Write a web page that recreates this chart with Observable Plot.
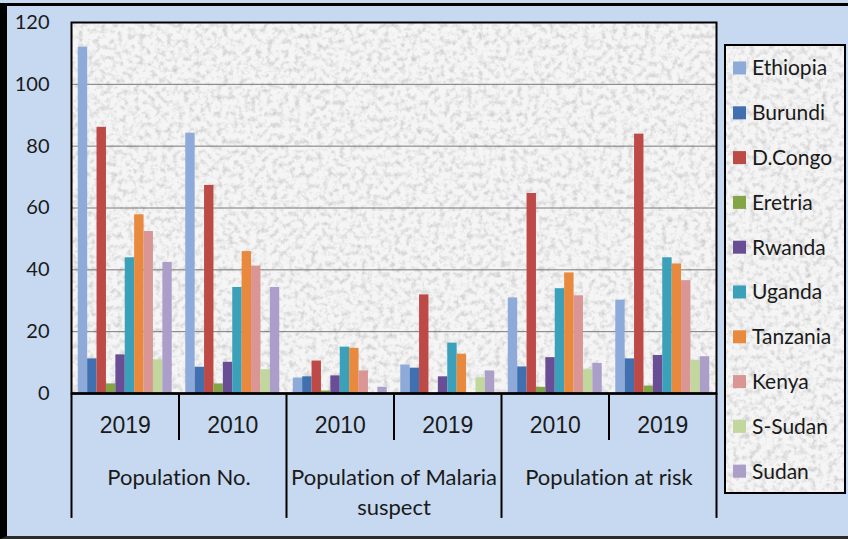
<!DOCTYPE html>
<html><head><meta charset="utf-8">
<script src="https://cdn.jsdelivr.net/npm/d3@7"></script>
<script src="https://cdn.jsdelivr.net/npm/@observablehq/plot@0.6"></script>
<style>
html,body{margin:0;padding:0;background:#c6d9f0;}
#wrap{position:relative;width:848px;height:539px;overflow:hidden;background:#c6d9f0;}
#wrap svg{position:absolute;left:0;top:0;}
#wrap svg text{font-variant-ligatures:none;font-feature-settings:"liga" 0;}
#border{position:absolute;left:0;top:3px;width:870px;height:536px;border-left:7px solid #000;border-top:3px solid #000;border-bottom:3px solid #2b2b2b;box-sizing:border-box;pointer-events:none;}
</style></head>
<body><div id="wrap"><div id="border"></div></div>
<script>
// ---- data ----
const countries = ["Ethiopia","Burundi","D.Congo","Eretria","Rwanda","Uganda","Tanzania","Kenya","S-Sudan","Sudan"];
const colors = ["#8eaad9","#4170b1","#bd4a47","#83a545","#6a4e95","#3ba1ba","#e9893d","#d99695","#c2d79d","#ab9fc9"];
const categories = ["Population No.","Population of Malaria\nsuspect","Population at risk"];
const years = ["2019","2010","2010","2019","2010","2019"];
const yTicks = [0,20,40,60,80,100,120];
// values per country across the 6 groups (Pop No. 2019, 2010 | Malaria 2010, 2019 | Risk 2010, 2019)
const ethiopia = [112, 84.2, 5.0, 9.2, 30.9, 30.2];
const burundi  = [11.2, 8.5, 5.4, 8.2, 8.6, 11.2];
const dcongo   = [86.1, 67.3, 10.5, 31.9, 64.7, 83.9];
const eretria  = [3.1, 3.1, 0.8, 0, 2.0, 2.4];
const rwanda   = [12.5, 10.1, 5.7, 5.4, 11.6, 12.3];
const uganda   = [43.9, 34.3, 15.0, 16.3, 33.9, 43.9];
const tanzania = [57.8, 45.9, 14.6, 12.7, 39.0, 41.9];
const kenya    = [52.4, 41.2, 7.3, 0, 31.6, 36.5];
const ssudan   = [10.9, 7.7, 0, 5.1, 7.7, 10.7];
const sudan    = [42.4, 34.3, 2.0, 7.3, 9.7, 11.9];
const series = [ethiopia, burundi, dcongo, eretria, rwanda, uganda, tanzania, kenya, ssudan, sudan];

// ---- build table ----
const pad = 0.72;
const span = countries.length + 2 * pad;
const rows = [];
years.forEach((yr, g) => {
  countries.forEach((c, ci) => {
    rows.push({g, country: c, value: series[ci][g], x1: g * span + pad + ci, x2: g * span + pad + ci + 1});
  });
});
const groupIdx = years.map((_, g) => g);
const dividers = d3.range(years.length + 1).map(g => ({g, long: g % 2 === 0}));
const catIdx = categories.map((_, i) => i);

const plot = Plot.plot({
  width: 848, height: 539,
  marginLeft: 71, marginRight: 132, marginTop: 22, marginBottom: 146,
  style: {fontFamily: "Lato, sans-serif", fontSize: "20px", color: "#1a1a1a", background: "transparent", overflow: "visible"},
  x: {domain: [0, years.length * span], axis: null},
  y: {domain: [0, 120], axis: null},
  color: {domain: countries, range: colors},
  marks: [
    Plot.frame({fill: "#f5f5f5"}),
    Plot.gridY(yTicks.slice(1, -1), {stroke: "#7a7a7a", strokeOpacity: 1, strokeWidth: 1}),
    Plot.rectY(rows, {x1: "x1", x2: "x2", y: "value", fill: "country"}),
    Plot.frame({stroke: "#000", strokeWidth: 2}),
    Plot.ruleY([0], {stroke: "#000", strokeWidth: 2.5}),
    Plot.axisY(yTicks, {tickSize: 0, tickPadding: 22, fontSize: 20, fill: "#1a1a1a", label: null}),
    Plot.ruleX(dividers, {x: d => d.g * span, y1: 0, y2: d => d.long ? -40.4 : -15.2, stroke: "#000", strokeWidth: 2}),
    Plot.text(groupIdx, {x: g => g * span + span / 2, y: -10.3, text: g => years[g],
      fontFamily: "Liberation Sans, Arial, sans-serif", fontSize: 23, fill: "#1a1a1a"}),
    Plot.text(catIdx, {x: i => (2 * i + 1) * span, y: -22.7, text: i => categories[i], lineAnchor: "top",
      lineHeight: 1.36, fontFamily: "Lato, sans-serif", fontSize: 22, fill: "#1a1a1a"})
  ]
});
document.getElementById("wrap").insertBefore(plot, document.getElementById("border"));

// ---- texture + legend ----
const svg = d3.select(plot);
const defs = svg.insert("defs", ":first-child");
const f = defs.append("filter").attr("id", "granite").attr("x", "0%").attr("y", "0%").attr("width", "100%").attr("height", "100%")
  .attr("color-interpolation-filters", "sRGB");
f.append("feTurbulence").attr("type", "fractalNoise").attr("baseFrequency", 0.18).attr("numOctaves", 4).attr("seed", 5).attr("result", "n");
f.append("feColorMatrix").attr("in", "n").attr("type", "matrix")
  .attr("values", "0 0 0 0 0.78  0 0 0 0 0.78  0 0 0 0 0.78  2.0 0 0 0 -0.9").attr("result", "spots");
f.append("feComposite").attr("in", "spots").attr("in2", "SourceGraphic").attr("operator", "in").attr("result", "s2");
const m = f.append("feMerge");
m.append("feMergeNode").attr("in", "SourceGraphic");
m.append("feMergeNode").attr("in", "s2");
const frames = plot.querySelectorAll('[aria-label="frame"]');
if (frames.length) {
  const el = frames[0].tagName.toLowerCase() === "rect" ? frames[0] : frames[0].querySelector("rect");
  if (el) el.setAttribute("filter", "url(#granite)");
}

const lg = svg.append("g").attr("class", "legend").attr("text-anchor", "start");
lg.append("rect").attr("x", 725).attr("y", 45).attr("width", 120).attr("height", 448)
  .attr("fill", "#f5f5f5").attr("filter", "url(#granite)");
lg.append("rect").attr("x", 725).attr("y", 45).attr("width", 120).attr("height", 448)
  .attr("fill", "none").attr("stroke", "#000").attr("stroke-width", 2);
const items = lg.selectAll("g.item").data(countries).join("g").attr("class", "item")
  .attr("transform", (d, i) => `translate(0,${68 + i * 44.8})`);
items.append("rect").attr("x", 733).attr("y", -6.5).attr("width", 13).attr("height", 13).attr("fill", (d, i) => colors[i]);
items.append("text").attr("x", 752).attr("y", 0).attr("dy", "0.35em").attr("text-anchor", "start").text(d => d)
  .attr("font-family", "Lato, sans-serif").attr("font-size", 21).attr("fill", "#1a1a1a");
</script>
</body></html>
